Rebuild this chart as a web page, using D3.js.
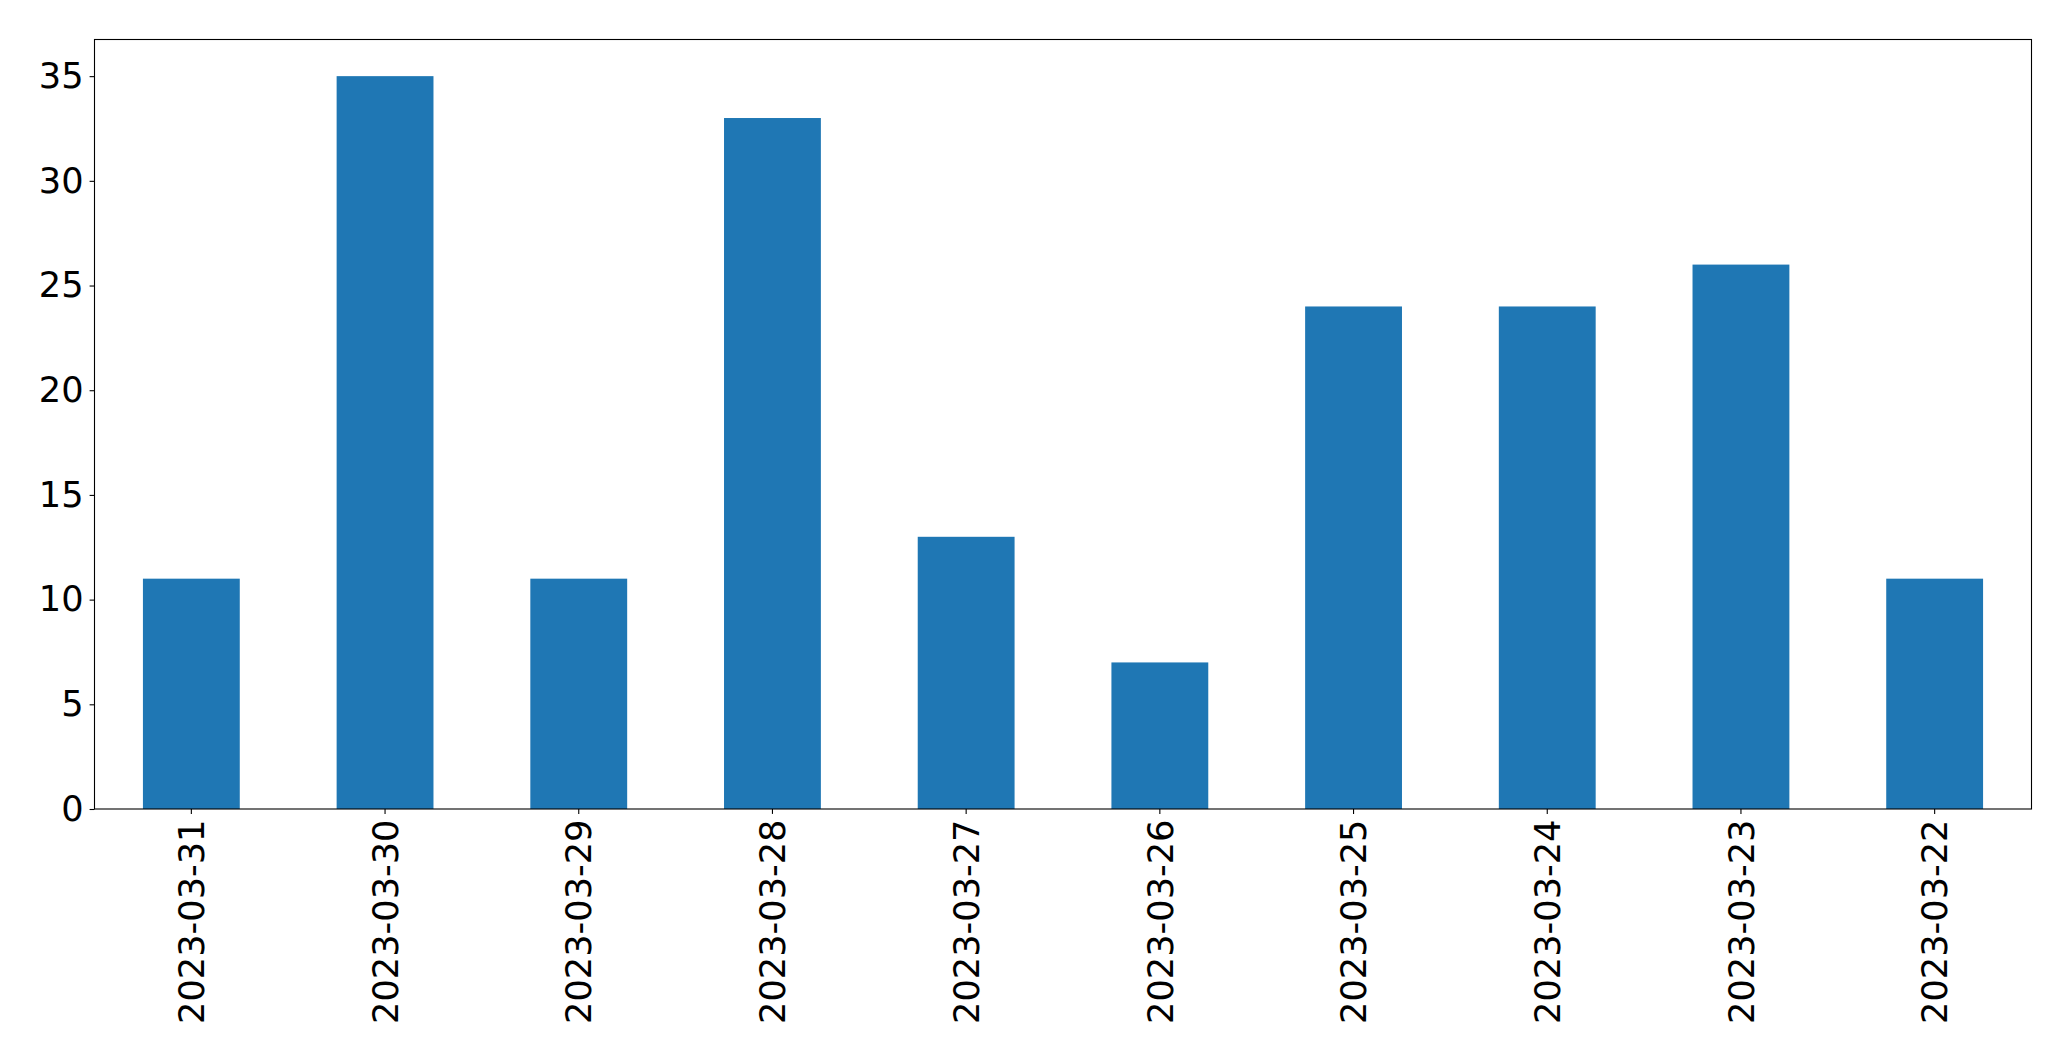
<!DOCTYPE html>
<meta charset="utf-8">
<style>
body { margin: 0; background: #fff; }
.axis text { font: 35.2px "DejaVu Sans", sans-serif; fill: #000; }
.axis path, .axis line { stroke: #000; stroke-width: 1.1px; }
</style>
<svg width="2071" height="1061"></svg>
<script src="https://d3js.org/d3.v7.min.js"></script>
<script>

var dates = ["2023-03-31", "2023-03-30", "2023-03-29", "2023-03-28", "2023-03-27",
             "2023-03-26", "2023-03-25", "2023-03-24", "2023-03-23", "2023-03-22"];
var counts = [11, 35, 11, 33, 13, 7, 24, 24, 26, 11];
var yTicks = [0, 5, 10, 15, 20, 25, 30, 35];

var svg = d3.select("svg"),
    margin = {top: 39.5, right: 39.5, bottom: 252, left: 94.5},
    width = 2071 - margin.left - margin.right,
    height = 1061 - margin.top - margin.bottom,
    g = svg.append("g").attr("transform", "translate(" + margin.left + "," + margin.top + ")");

var x = d3.scaleBand()
    .domain(dates)
    .range([0, width])
    .paddingInner(0.5)
    .paddingOuter(0.25);

var y = d3.scaleLinear()
    .domain([0, d3.max(counts) * 1.05])
    .range([height, 0]);

g.selectAll(".bar")
  .data(counts)
  .enter().append("rect")
    .attr("class", "bar")
    .attr("x", function(d, i) { return x(dates[i]); })
    .attr("width", x.bandwidth())
    .attr("y", function(d) { return y(d); })
    .attr("height", function(d) { return height - y(d); })
    .attr("fill", "#1f77b4");

var xAxis = g.append("g")
    .attr("class", "axis")
    .attr("transform", "translate(0," + height + ")")
    .call(d3.axisBottom(x).tickSize(4.9).tickPadding(4.9).tickSizeOuter(0));
xAxis.select(".domain").remove();
xAxis.selectAll("text")
    .attr("transform", "rotate(-90)")
    .attr("text-anchor", "end")
    .attr("x", -10.5)
    .attr("y", 0)
    .attr("dy", "0.36em");

var yAxis = g.append("g")
    .attr("class", "axis")
    .call(d3.axisLeft(y).tickValues(yTicks).tickSize(4.9).tickPadding(6).tickSizeOuter(0));
yAxis.select(".domain").remove();

// frame
g.append("rect")
    .attr("width", width)
    .attr("height", height)
    .attr("fill", "none")
    .attr("stroke", "#000")
    .attr("stroke-width", 1.1);

</script>
